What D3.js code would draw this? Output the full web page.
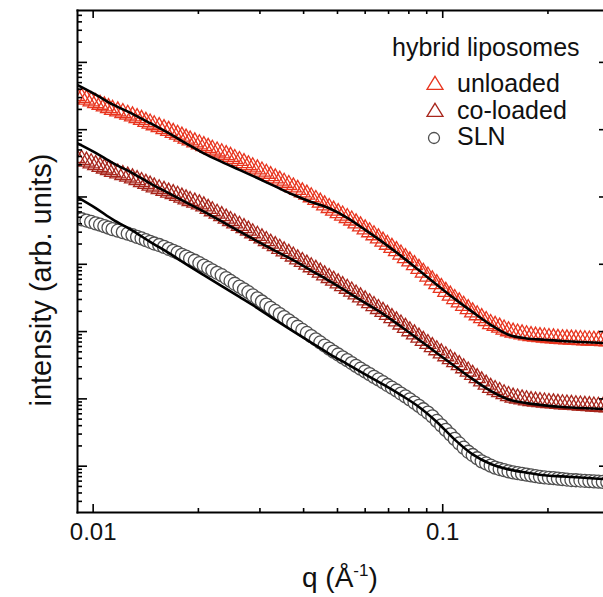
<!DOCTYPE html>
<html><head><meta charset="utf-8">
<script src="https://cdn.jsdelivr.net/npm/d3@7"></script>
<style>
body{margin:0;background:#fff;}
svg{display:block;font-family:"Liberation Sans",Arial,sans-serif;}
</style>
</head><body>
<svg id="chart" width="603" height="597"></svg>
<script>
// ---------- data ----------
const q = [0.0090,0.0093,0.0096,0.0099,0.0102,0.0105,0.0108,0.0111,0.0114,0.0118,
0.0122,0.0126,0.0130,0.0134,0.0138,0.0142,0.0146,0.0150,0.0155,0.0160,
0.0165,0.0170,0.0175,0.0180,0.0185,0.0190,0.0196,0.0202,0.0208,0.0214,
0.0220,0.0227,0.0234,0.0241,0.0248,0.0255,0.0263,0.0271,0.0279,0.0287,
0.0296,0.0305,0.0314,0.0323,0.0333,0.0343,0.0353,0.0364,0.0375,0.0386,
0.0398,0.0410,0.0422,0.0435,0.0448,0.0461,0.0475,0.0489,0.0504,0.0519,
0.0535,0.0551,0.0567,0.0584,0.0602,0.0620,0.0638,0.0657,0.0677,0.0697,
0.0718,0.0740,0.0762,0.0785,0.0808,0.0833,0.0858,0.0883,0.0910,0.0937,
0.0965,0.0994,0.1024,0.1055,0.1086,0.1119,0.1152,0.1187,0.1222,0.1259,
0.1297,0.1336,0.1376,0.1417,0.1460,0.1503,0.1548,0.1595,0.1643,0.1692,
0.1743,0.1795,0.1849,0.1904,0.1961,0.2020,0.2081,0.2143,0.2208,0.2274,
0.2342,0.2412,0.2485,0.2559,0.2636,0.2715,0.2797,0.2881,0.2967];

const unloaded = [3.13e5,2.94e5,2.77e5,2.61e5,2.46e5,2.32e5,2.19e5,2.07e5,1.95e5,1.85e5,
1.75e5,1.65e5,1.56e5,1.47e5,1.38e5,1.29e5,1.22e5,1.15e5,1.08e5,1.01e5,
9.48e4,8.87e4,8.32e4,7.80e4,7.29e4,6.84e4,6.41e4,6.00e4,5.64e4,5.30e4,
4.98e4,4.69e4,4.41e4,4.14e4,3.90e4,3.63e4,3.39e4,3.15e4,2.93e4,2.73e4,
2.54e4,2.36e4,2.19e4,2.02e4,1.87e4,1.73e4,1.61e4,1.49e4,1.37e4,1.26e4,
1.16e4,1.07e4,9790,8930,8150,7410,6780,6210,5700,5240,
4820,4420,4000,3610,3270,2960,2670,2400,2150,1930,
1730,1550,1380,1220,1090,961,845,741,650,570,
501,440,385,339,301,268,239,213,191,173,
157,142,128,120,113,106,100,95.5,92.7,89.7,
87.1,84.5,83.2,81.8,80.7,79.4,78.3,77.1,76.2,75.7,
75.2,74.6,74.0,73.5,72.9,72.4,71.9,71.4,71.0];

const coloaded = [3.75e4,3.53e4,3.32e4,3.13e4,2.94e4,2.77e4,2.62e4,2.48e4,2.34e4,2.21e4,
2.09e4,1.98e4,1.87e4,1.76e4,1.65e4,1.55e4,1.46e4,1.37e4,1.29e4,1.22e4,
1.15e4,1.09e4,1.03e4,9680,9120,8610,8150,7690,7160,6590,
6070,5580,5130,4720,4350,4000,3690,3400,3130,2860,
2620,2400,2190,2000,1840,1680,1540,1410,1290,1170,
1070,979,893,815,743,678,618,564,514,469,
428,389,352,318,288,261,237,214,194,175,
157,140,126,112,100,89.7,80.5,72.1,64.7,58.1,
52.2,46.9,42.5,38.4,34.7,31.4,28.2,25.2,22.5,20.1,
18.0,16.1,14.4,13.4,12.5,11.6,10.9,10.3,10.0,9.70,
9.42,9.14,8.99,8.87,8.73,8.59,8.47,8.34,8.22,8.15,
8.05,7.96,7.87,7.80,7.71,7.62,7.55,7.46,7.40];

const sln = [4810,4590,4390,4180,3990,3810,3620,3440,3270,3100,
2950,2800,2660,2510,2380,2240,2120,2000,1900,1780,
1670,1560,1460,1360,1280,1190,1110,1020,940,867,
798,735,676,614,556,505,458,416,378,340,
306,275,247,221,199,179,161,144,129,116,
104,93.8,84.1,75.5,67.8,61.0,54.8,49.5,44.9,40.7,
37.0,33.5,30.4,27.6,25.1,22.9,20.9,19.1,17.4,15.8,
14.4,13.1,11.8,10.7,9.68,8.65,7.73,6.89,6.14,5.40,
4.62,3.97,3.40,2.92,2.50,2.14,1.85,1.61,1.44,1.29,
1.16,1.08,1.00,0.935,0.893,0.857,0.822,0.796,0.774,0.755,
0.736,0.718,0.700,0.682,0.671,0.661,0.652,0.641,0.631,0.622,
0.612,0.607,0.601,0.596,0.590,0.585,0.579,0.574,0.569];

// model fits (black lines)
const fitQ = [0.0090,0.0102,0.0114,0.0130,0.0146,0.0165,0.0185,0.0208,0.0234,0.0263,
0.0296,0.0333,0.0375,0.0422,0.0475,0.0535,0.0602,0.0677,0.0762,0.0858,
0.0965,0.1086,0.1222,0.1376,0.1548,0.1743,0.1961,0.2208,0.2485,0.2797,0.2967];
const fitUnloaded = [4.58e5,3.26e5,2.34e5,1.69e5,1.23e5,8.71e4,6.17e4,4.37e4,3.27e4,2.49e4,
1.88e4,1.41e4,1.06e4,8260,6670,4820,3190,2080,1310,800,
489,301,191,124,88.3,77.8,74.3,71.1,69.0,67.1,66.2];
const fitColoaded = [6.27e4,4.45e4,3.16e4,2.23e4,1.57e4,1.12e4,8150,5960,4260,3020,
2160,1560,1130,793,557,383,262,180,117,74.5,
47.3,30.1,19.3,12.9,9.62,8.51,7.87,7.43,7.21,7.01,6.92];
const fitSln = [9890,6730,4570,3110,2120,1450,989,678,467,322,
220,147,99.1,67.5,46.0,32.3,22.8,16.1,11.2,7.46,
4.47,2.44,1.47,1.06,0.881,0.789,0.721,0.693,0.667,0.641,0.630];

const seriesNames = ["unloaded","co-loaded","SLN"];
const legendTitle = "hybrid liposomes";
const xMajorTicks = [0.01, 0.1];
const xTickLabels = ["0.01", "0.1"];
const xMinorTicks = [0.02,0.03,0.04,0.05,0.06,0.07,0.08,0.09,0.2,0.3];
const yMajorTicks = [1,1e1,1e2,1e3,1e4,1e5,1e6];
const xTitle = "q (Å";
const yTitle = "intensity (arb. units)";

// ---------- layout ----------
const L = 77, R = 609, T = 10, B = 512;
const svg = d3.select("#chart");
const x = d3.scaleLog().domain([0.00902, 0.3]).range([L, R]);
const y = d3.scaleLog().domain([0.205, 5.9e6]).range([B, T]);

const colors = {unloaded:"#e8351f", coloaded:"#a8261c", sln:"#505050"};

svg.append("defs").append("clipPath").attr("id","plotclip")
  .append("rect").attr("x",L).attr("y",T).attr("width",R-L).attr("height",B-T);

const plot = svg.append("g").attr("clip-path","url(#plotclip)");

function tri(w,h){ return `M0,${-2*h/3}L${w/2},${h/3}L${-w/2},${h/3}Z`; }

function drawTriangles(vals, color){
  plot.append("g").selectAll("path").data(q.map((d,i)=>[d,vals[i]])).join("path")
    .attr("d", tri(16,14))
    .attr("transform", d=>`translate(${x(d[0])},${y(d[1])})`)
    .attr("fill","none").attr("stroke",color).attr("stroke-width",1.3);
}
function drawCircles(vals, color){
  plot.append("g").selectAll("circle").data(q.map((d,i)=>[d,vals[i]])).join("circle")
    .attr("cx", d=>x(d[0])).attr("cy", d=>y(d[1])).attr("r",6.5)
    .attr("fill","#fff").attr("stroke",color).attr("stroke-width",1.3);
}
drawCircles(sln, colors.sln);
drawTriangles(coloaded, colors.coloaded);
drawTriangles(unloaded, colors.unloaded);

const line = d3.line().x(d=>x(d[0])).y(d=>y(d[1])).curve(d3.curveMonotoneX);
[fitUnloaded, fitColoaded, fitSln].forEach(f=>{
  plot.append("path").datum(fitQ.map((d,i)=>[d,f[i]]))
    .attr("d", line).attr("fill","none").attr("stroke","#000").attr("stroke-width",2.6);
});

// ---------- axes ----------
const yMinorTicks = [];
[0.1,1,10,100,1e3,1e4,1e5,1e6].forEach(dec=>{
  for(let k=2;k<10;k++){ const v=dec*k; if(v>=y.domain()[0] && v<=y.domain()[1]) yMinorTicks.push(v); }
});

function style(g, keepDomain){
  if(!keepDomain) g.select(".domain").remove();
  else g.select(".domain").attr("stroke","#000").attr("stroke-width",2).attr("stroke-linecap","square");
  g.selectAll(".tick line").attr("stroke","#000").attr("stroke-width",1.6);
  g.selectAll("text").attr("font-size",24).attr("fill","#111")
    .attr("font-family",'"Liberation Sans",Arial,sans-serif');
  return g;
}
style(svg.append("g").attr("transform",`translate(0,${B})`)
  .call(d3.axisBottom(x).tickValues(xMajorTicks).tickSize(-8).tickSizeOuter(0).tickPadding(11)
  .tickFormat((d,i)=>xTickLabels[i])), true);
style(svg.append("g").attr("transform",`translate(0,${B})`)
  .call(d3.axisBottom(x).tickValues(xMinorTicks).tickSize(-4).tickSizeOuter(0).tickFormat("")), false);
style(svg.append("g").attr("transform",`translate(0,${T})`)
  .call(d3.axisTop(x).tickValues(xMajorTicks).tickSize(-8).tickSizeOuter(0).tickFormat("")), true);
style(svg.append("g").attr("transform",`translate(0,${T})`)
  .call(d3.axisTop(x).tickValues(xMinorTicks).tickSize(-4).tickSizeOuter(0).tickFormat("")), false);
style(svg.append("g").attr("transform",`translate(${L},0)`)
  .call(d3.axisLeft(y).tickValues(yMajorTicks).tickSize(-10).tickSizeOuter(0).tickFormat("")), true);
style(svg.append("g").attr("transform",`translate(${L},0)`)
  .call(d3.axisLeft(y).tickValues(yMinorTicks).tickSize(-5).tickSizeOuter(0).tickFormat("")), false);
style(svg.append("g").attr("transform",`translate(${R},0)`)
  .call(d3.axisRight(y).tickValues(yMajorTicks).tickSize(-10).tickSizeOuter(0).tickFormat("")), true);
style(svg.append("g").attr("transform",`translate(${R},0)`)
  .call(d3.axisRight(y).tickValues(yMinorTicks).tickSize(-5).tickSizeOuter(0).tickFormat("")), false);

// titles
const xt = svg.append("text").attr("x",302).attr("y",587).attr("font-size",28).attr("fill","#111");
xt.append("tspan").text(xTitle);
xt.append("tspan").attr("font-size",17).attr("dy",-11).text("-1");
xt.append("tspan").attr("dy",11).text(")");

svg.append("text").attr("transform","translate(51,280) rotate(-90)")
  .attr("text-anchor","middle").attr("font-size",29).attr("fill","#111").text(yTitle);

// ---------- legend ----------
const lg = svg.append("g");
lg.append("text").attr("x",392).attr("y",56).attr("font-size",25).attr("fill","#111").text(legendTitle);
const legendRows = [
  {name:seriesNames[0], color:colors.unloaded, shape:"tri", ty:92, sy:85},
  {name:seriesNames[1], color:colors.coloaded, shape:"tri", ty:118.5, sy:112},
  {name:seriesNames[2], color:colors.sln, shape:"circ", ty:145, sy:138}
];
legendRows.forEach(r=>{
  if(r.shape==="tri"){
    lg.append("path").attr("d",tri(16,13)).attr("transform",`translate(435,${r.sy})`)
      .attr("fill","none").attr("stroke",r.color).attr("stroke-width",1.3);
  } else {
    lg.append("circle").attr("cx",434).attr("cy",r.sy).attr("r",5.5)
      .attr("fill","#fff").attr("stroke",r.color).attr("stroke-width",1.3);
  }
  lg.append("text").attr("x",457).attr("y",r.ty).attr("font-size",25).attr("fill","#111").text(r.name);
});
</script>
</body></html>
